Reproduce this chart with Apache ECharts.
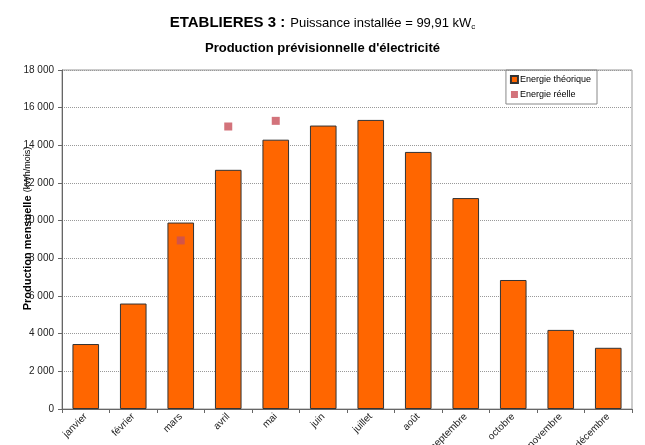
<!DOCTYPE html>
<html><head><meta charset="utf-8">
<script src="https://cdn.jsdelivr.net/npm/echarts@6/dist/echarts.min.js"></script>
<style>html,body{margin:0;padding:0;background:#fff}#c{width:645px;height:445px}</style>
</head><body><div id="c"></div>
<script>
const months = ['janvier','février','mars','avril','mai','juin','juillet','août','septembre','octobre','novembre','décembre'];
const energieTheorique = [3450, 5600, 9900, 12700, 14300, 15050, 15350, 13650, 11200, 6850, 4200, 3250];
const energieReelle = [null, null, 8950, 15000, 15300, null, null, null, null, null, null, null];
const yTicks = {min: 0, max: 18000, interval: 2000};

const chart = echarts.init(document.getElementById('c'));
const F = '"Liberation Sans", Arial, sans-serif';
chart.setOption({
  animation: false,
  title: [{
    text: '{b|ETABLIERES 3 :} {n|Puissance installée = 99,91 kW}{s|c}',
    left: 'center', top: 9,
    textStyle: {fontWeight: 'normal', rich: {
      b: {fontFamily: F, fontWeight: 'bold', fontSize: 15, color: '#000'},
      n: {fontFamily: F, fontWeight: 'normal', fontSize: 13, color: '#000'},
      s: {fontFamily: F, fontWeight: 'normal', fontSize: 8, color: '#000', padding: [8, 0, 0, 0]}
    }}
  }, {
    text: 'Production prévisionnelle d\'électricité',
    left: 'center', top: 37,
    textStyle: {fontFamily: F, fontWeight: 'bold', fontSize: 13, color: '#000'}
  }],
  legend: {
    right: 48, top: 70, orient: 'vertical', itemGap: 6,
    padding: [5, 6, 5, 4],
    borderColor: '#888', borderWidth: 1,
    itemWidth: 7, itemHeight: 7,
    textStyle: {fontFamily: F, fontSize: 9, color: '#000', padding: [0, 0, 0, -3]},
    data: [{name: 'Energie théorique', icon: 'rect'}, {name: 'Energie réelle', icon: 'rect'}]
  },
  grid: {left: 62, right: 13, top: 70, bottom: 36, outerBoundsMode: 'none', containLabel: false,
    show: true, borderColor: '#999', borderWidth: 1},
  xAxis: {
    type: 'category', data: months,
    axisLine: {lineStyle: {color: '#666'}},
    axisTick: {show: true, length: 4, lineStyle: {color: '#666'}},
    axisLabel: {rotate: 45, fontFamily: F, fontSize: 10, color: '#222', margin: 6, interval: 0}
  },
  yAxis: {
    type: 'value', min: yTicks.min, max: yTicks.max, interval: yTicks.interval,
    name: '{b|Production mensuelle} {s|(kWh/mois)}',
    nameLocation: 'middle', nameGap: 28, nameRotate: 90, nameMoveOverlap: false,
    nameTextStyle: {padding: [0, 0, 0, 22], rich: {
      b: {fontFamily: F, fontWeight: 'bold', fontSize: 11, color: '#000'},
      s: {fontFamily: F, fontSize: 9, color: '#000'}
    }},
    axisLine: {show: true, lineStyle: {color: '#666'}},
    axisTick: {show: true, length: 4, lineStyle: {color: '#666'}},
    axisLabel: {fontFamily: F, fontSize: 10, color: '#222', margin: 8,
      formatter: v => String(v).replace(/\B(?=(\d{3})+(?!\d))/g, ' ')},
    splitLine: {lineStyle: {color: '#999', type: [1, 1], width: 1}}
  },
  series: [{
    name: 'Energie théorique', type: 'bar', data: energieTheorique,
    barWidth: '56%',
    itemStyle: {color: '#FF6600', borderColor: '#333', borderWidth: 1}
  }, {
    name: 'Energie réelle', type: 'scatter', data: energieReelle,
    symbol: 'rect', symbolSize: 8,
    itemStyle: {color: '#C8505A'}
  }]
});
</script></body></html>
